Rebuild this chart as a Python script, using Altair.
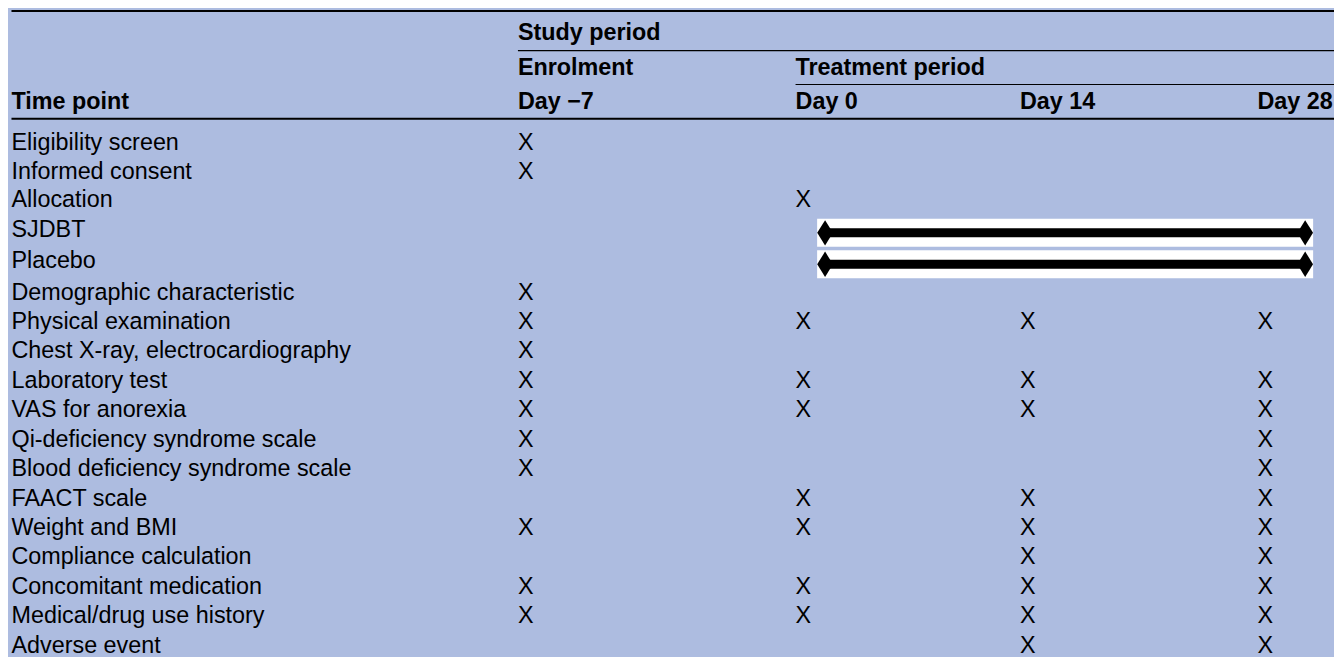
import altair as alt
import pandas as pd

# ---- table content ----
columns = ["Time point", "Day \u22127", "Day 0", "Day 14", "Day 28"]
rows = [
    "Eligibility screen",
    "Informed consent",
    "Allocation",
    "SJDBT",
    "Placebo",
    "Demographic characteristic",
    "Physical examination",
    "Chest X-ray, electrocardiography",
    "Laboratory test",
    "VAS for anorexia",
    "Qi-deficiency syndrome scale",
    "Blood deficiency syndrome scale",
    "FAACT scale",
    "Weight and BMI",
    "Compliance calculation",
    "Concomitant medication",
    "Medical/drug use history",
    "Adverse event",
]
day_m7 = [1, 1, 0, 0, 0, 1, 1, 1, 1, 1, 1, 1, 0, 1, 0, 1, 1, 0]
day_0 = [0, 0, 1, 0, 0, 0, 1, 0, 1, 1, 0, 0, 1, 1, 0, 1, 1, 0]
day_14 = [0, 0, 0, 0, 0, 0, 1, 0, 1, 1, 0, 0, 1, 1, 1, 1, 1, 1]
day_28 = [0, 0, 0, 0, 0, 0, 1, 0, 1, 1, 1, 1, 1, 1, 1, 1, 1, 1]

bar_rows = ["SJDBT", "Placebo"]
bar_start = "Day 0"
bar_end = "Day 28"

# header rows: (text, column it starts in, header level)
header_study = [("Study period", "Day \u22127")]
header_period = [("Enrolment", "Day \u22127"), ("Treatment period", "Day 0")]

# ---- build tables ----
col_idx = {c: i for i, c in enumerate(columns)}

body = pd.DataFrame({"text": rows, "slot": list(range(len(rows))), "col": 0})

xs = []
for j, flags in zip([1, 2, 3, 4], [day_m7, day_0, day_14, day_28]):
    for i, f in enumerate(flags):
        if f:
            xs.append({"text": "X", "slot": i, "col": j})
xmarks = pd.DataFrame(xs)

hdr = []
for t, c in header_study:
    hdr.append({"text": t, "col": col_idx[c], "slot": -3})
for t, c in header_period:
    hdr.append({"text": t, "col": col_idx[c], "slot": -2})
for c in columns:
    hdr.append({"text": c, "col": col_idx[c], "slot": -1})
header = pd.DataFrame(hdr)

bars = pd.DataFrame({
    "name": bar_rows,
    "slot": [rows.index(b) for b in bar_rows],
    "start": col_idx[bar_start],
    "end": col_idx[bar_end],
})

thick_lines = pd.DataFrame({"slot": [-3.5, -0.5], "col": [0, 0]})
thin_lines = pd.DataFrame({"slot": [-2.5, -1.5],
                           "col": [col_idx["Day \u22127"], col_idx["Day 0"]]})

# ---- layout scales (table geometry) ----
xscale = alt.Scale(domain=[0, 1, 2, 3, 4],
                   range=[3.5, 513, 792.3, 1018, 1257],
                   nice=False, zero=False)
yscale = alt.Scale(domain=[-3.5, -3, -2.5, -2, -1.5, -1, -0.5, 0, 2, 3, 4, 5, 17],
                   range=[1, 22, 41, 57, 75, 91.5, 109.5, 132.7, 190.3, 219.7, 251.3, 283, 638.2],
                   nice=False, zero=False)

X = lambda f: alt.X(f, type="quantitative", scale=xscale, axis=None)
Y = lambda f: alt.Y(f, type="quantitative", scale=yscale, axis=None)

FONT = "Liberation Sans"
FS = 23.5
INK = "#000000"

body_layer = alt.Chart(body).mark_text(
    align="left", baseline="middle", dy=1.4, font=FONT, fontSize=FS, color=INK
).encode(x=X("col"), y=Y("slot"), text="text:N")

x_layer = alt.Chart(xmarks).mark_text(
    align="left", baseline="middle", dy=1.4, font=FONT, fontSize=FS, color=INK
).encode(x=X("col"), y=Y("slot"), text="text:N")

header_layer = alt.Chart(header).mark_text(
    align="left", baseline="middle", dy=1.4, font=FONT, fontSize=FS,
    fontWeight="bold", color=INK
).encode(x=X("col"), y=Y("slot"), text="text:N")

box_layer = alt.Chart(bars).mark_rect(
    color="white", xOffset=21.7, x2Offset=56, yOffset=-9.6, y2Offset=18.6
).encode(x=X("start"), x2="end:Q", y=Y("slot"), y2="slot:Q")

bar_rule = alt.Chart(bars).mark_rule(
    color=INK, strokeWidth=9, strokeCap="butt", xOffset=29.7, x2Offset=48, yOffset=4.5
).encode(x=X("start"), x2="end:Q", y=Y("slot"))

diamond = "M -0.62 0 L 0 -1 L 0.62 0 L 0 1 Z"
left_tip = alt.Chart(bars).mark_point(
    shape=diamond, size=650, filled=True, color=INK, opacity=1, xOffset=29.7, yOffset=4.5
).encode(x=X("start"), y=Y("slot"))
right_tip = alt.Chart(bars).mark_point(
    shape=diamond, size=650, filled=True, color=INK, opacity=1, xOffset=48, yOffset=4.5
).encode(x=X("end"), y=Y("slot"))

thick_layer = alt.Chart(thick_lines).mark_rule(color=INK, strokeWidth=2).encode(
    x=X("col"), x2=alt.value("width"), y=Y("slot"))
thin_layer = alt.Chart(thin_lines).mark_rule(color=INK, strokeWidth=1.2).encode(
    x=X("col"), x2=alt.value("width"), y=Y("slot"))

chart = alt.layer(
    box_layer, bar_rule, left_tip, right_tip,
    thick_layer, thin_layer,
    header_layer, body_layer, x_layer,
).properties(
    width=1334, height=649, padding=0,
    autosize=alt.AutoSizeParams(type="none"),
    background="#ADBCE0",
).configure_view(stroke=None)

chart.save("out.html", embed_options={"renderer": "svg", "actions": False})
